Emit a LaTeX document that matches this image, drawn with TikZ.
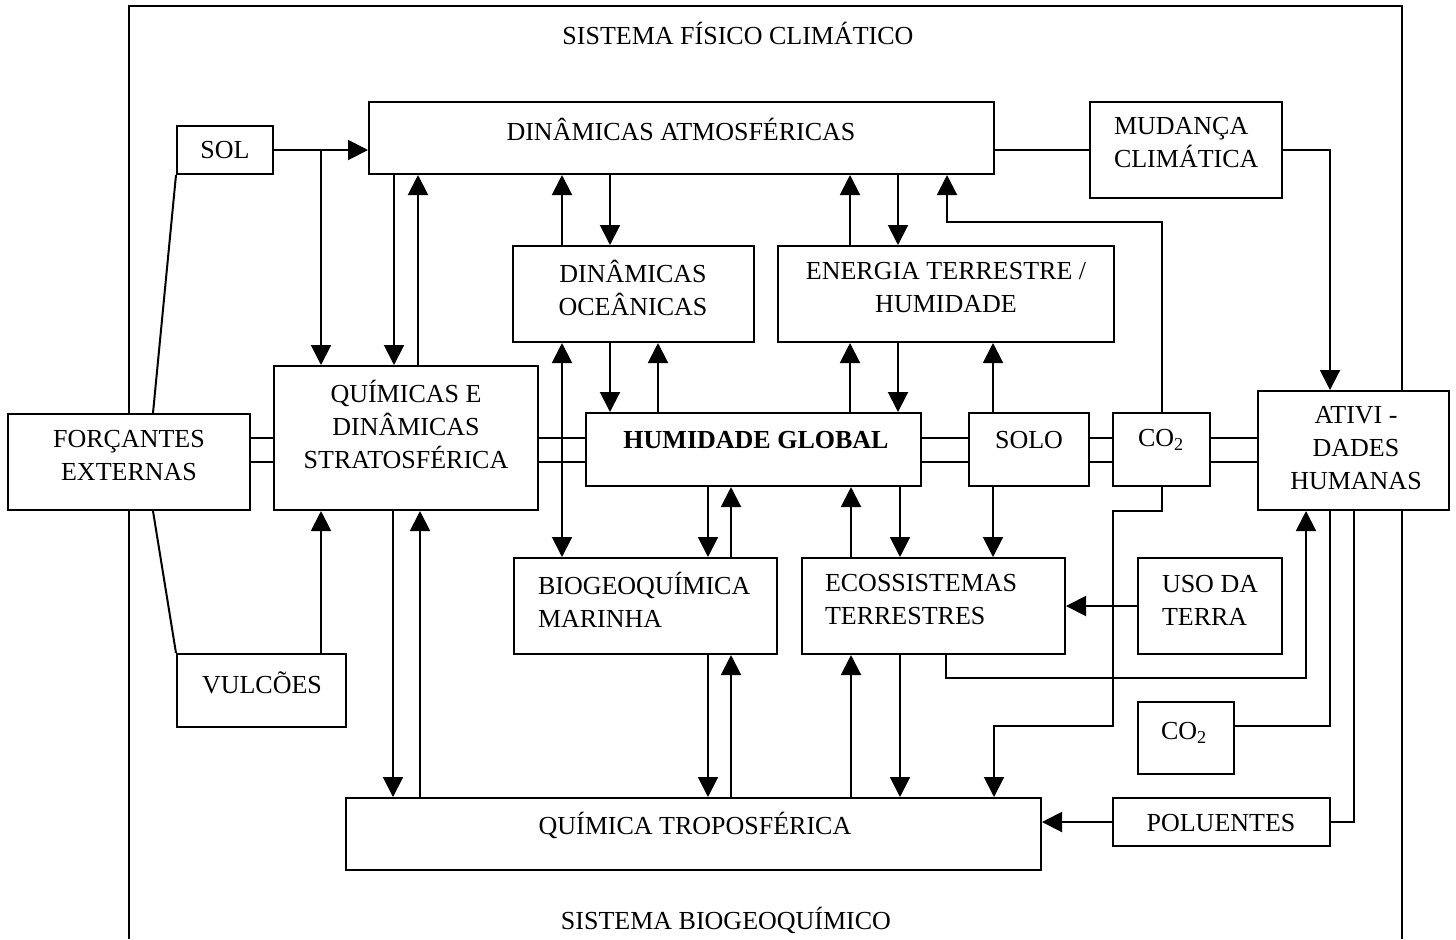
\documentclass[tikz,border=0pt]{standalone}
\usepackage{fontspec}
\setmainfont{Liberation Serif}
\usetikzlibrary{arrows.meta,fit,positioning}

\begin{document}
\begin{tikzpicture}[x=0.5pt,y=-0.5pt,line width=1pt,
    font=\fontsize{13}{16.5}\selectfont]

    % Styles
    \tikzstyle{bloco}=[draw, fill=white, inner sep=0pt]
    \tikzstyle{rotulo}=[inner sep=0pt, align=center]
    \tikzstyle{rotuloesq}=[inner sep=0pt, align=left, anchor=west]
    \tikzstyle{seta}=[-{Triangle[length=10pt,width=10pt]}]
    \tikzstyle{dupla}=[{Triangle[length=10pt,width=10pt]}-{Triangle[length=10pt,width=10pt]}]

    \useasboundingbox (0,0) rectangle (1456,939);

    % outer frame, open at the bottom
    \draw (129,939) -- (129,6) -- (1402,6) -- (1402,939);
    \node[rotulo] (titfisico) at (738,33) {SISTEMA FÍSICO CLIMÁTICO};
    \node[rotulo] (titbio) at (726,920) {SISTEMA BIOGEOQUÍMICO};

    % left column
    \node[bloco, fit={(8,414) (250,510)}] (forc) {};
    \node[rotulo] (forctx) at (129,456) {FORÇANTES\\EXTERNAS};
    \node[bloco, fit={(177,126) (273,174)}] (sol) {};
    \node[rotulo] (soltx) at (225,150) {SOL};
    \node[bloco, fit={(177,654) (346,727)}] (vulc) {};
    \node[rotuloesq] (vulctx) at (201,683) {VULCÕES};

    % top row
    \node[bloco, fit={(369,102) (994,174)}] (atm) {};
    \node[rotulo] (atmtx) at (681,129) {DINÂMICAS ATMOSFÉRICAS};
    \node[bloco, fit={(1090,102) (1282,198)}] (mud) {};
    \node[rotuloesq] (mudtx) at (1113,143) {MUDANÇA\\CLIMÁTICA};

    % second row
    \node[bloco, fit={(513,246) (754,342)}] (ocea) {};
    \node[rotulo] (oceatx) at (633,288) {DINÂMICAS\\OCEÂNICAS};
    \node[bloco, fit={(778,246) (1114,342)}] (ener) {};
    \node[rotulo] (enertx) at (946,288) {ENERGIA TERRESTRE /\\HUMIDADE};

    % middle row
    \node[bloco, fit={(274,366) (538,510)}] (quim) {};
    \node[rotulo] (quimtx) at (406,424) {QUÍMICAS E\\DINÂMICAS\\STRATOSFÉRICA};
    \node[bloco, fit={(586,413) (921,486)}] (humi) {};
    \node[rotulo, font=\fontsize{13}{16.5}\selectfont\bfseries] (humitx) at (756,440) {HUMIDADE GLOBAL};
    \node[bloco, fit={(969,413) (1089,486)}] (solo) {};
    \node[rotulo] (solotx) at (1029,440) {SOLO};
    \node[bloco, fit={(1113,413) (1210,486)}] (coa) {};
    \node[rotuloesq] (coatx) at (1137,440) {CO\textsubscript{2}};
    \node[bloco, fit={(1258,391) (1449,510)}] (ativ) {};
    \node[rotulo] (ativtx) at (1356,448) {ATIVI -\\DADES\\HUMANAS};

    % fourth row
    \node[bloco, fit={(514,558) (777,654)}] (biog) {};
    \node[rotuloesq] (biogtx) at (537,600) {BIOGEOQUÍMICA\\MARINHA};
    \node[bloco, fit={(802,558) (1065,654)}] (ecos) {};
    \node[rotuloesq] (ecostx) at (824,600) {ECOSSISTEMAS\\TERRESTRES};
    \node[bloco, fit={(1138,558) (1282,654)}] (uso) {};
    \node[rotuloesq] (usotx) at (1161,600) {USO DA\\TERRA};
    \node[bloco, fit={(1138,702) (1234,774)}] (cob) {};
    \node[rotuloesq] (cobtx) at (1160,733) {CO\textsubscript{2}};

    % bottom row
    \node[bloco, fit={(346,798) (1041,870)}] (trop) {};
    \node[rotulo] (troptx) at (695,825) {QUÍMICA TROPOSFÉRICA};
    \node[bloco, fit={(1113,798) (1330,846)}] (polu) {};
    \node[rotulo] (polutx) at (1221,823) {POLUENTES};

    % sun and volcanoes
    \draw[seta] (sol.east) -- (sol.east -| atm.west);
    \coordinate (solram) at (321,150);
    \draw[seta] (solram) -- (321,0 |- quim.north);
    \draw[seta] (321,0 |- vulc.north) -- (321,0 |- quim.south);
    \draw (sol.south west) -- (153,0 |- forc.north);
    \draw (153,0 |- forc.south) -- (vulc.north west);

    % atmosphere and stratosphere
    \draw[seta] (394,0 |- atm.south) -- (394,0 |- quim.north);
    \draw[seta] (418,0 |- quim.north) -- (418,0 |- atm.south);

    % atmosphere, ocean and land energy
    \draw[seta] (562,0 |- ocea.north) -- (562,0 |- atm.south);
    \draw[seta] (610,0 |- atm.south) -- (610,0 |- ocea.north);
    \draw[seta] (850,0 |- ener.north) -- (850,0 |- atm.south);
    \draw[seta] (898,0 |- atm.south) -- (898,0 |- ener.north);

    % CO2 up to the atmosphere
    \draw[seta] (1162,0 |- coa.north) |- (947,222) -- (947,0 |- atm.south);

    % climate change
    \draw (atm.east |- mud.west) -- (mud.west);
    \draw[seta] (mud.east) -| (1330,0 |- ativ.north);

    % ocean, land energy and global humidity
    \draw[dupla] (562,0 |- ocea.south) -- (562,0 |- biog.north);
    \draw[seta] (610,0 |- ocea.south) -- (610,0 |- humi.north);
    \draw[seta] (658,0 |- humi.north) -- (658,0 |- ocea.south);
    \draw[seta] (850,0 |- humi.north) -- (850,0 |- ener.south);
    \draw[seta] (898,0 |- ener.south) -- (898,0 |- humi.north);
    \draw[seta] (993,0 |- solo.north) -- (993,0 |- ener.south);

    % double links of the middle row
    \draw (forc.east |- 0,438) -- (quim.west |- 0,438);
    \draw (forc.east |- 0,462) -- (quim.west |- 0,462);
    \draw (quim.east |- 0,438) -- (humi.west |- 0,438);
    \draw (quim.east |- 0,462) -- (humi.west |- 0,462);
    \draw (humi.east |- 0,438) -- (solo.west |- 0,438);
    \draw (humi.east |- 0,462) -- (solo.west |- 0,462);
    \draw (solo.east |- 0,438) -- (coa.west |- 0,438);
    \draw (solo.east |- 0,462) -- (coa.west |- 0,462);
    \draw (coa.east |- 0,438) -- (ativ.west |- 0,438);
    \draw (coa.east |- 0,462) -- (ativ.west |- 0,462);

    % global humidity and ecosystems
    \draw[seta] (708,0 |- humi.south) -- (708,0 |- biog.north);
    \draw[seta] (731,0 |- biog.north) -- (731,0 |- humi.south);
    \draw[seta] (851,0 |- ecos.north) -- (851,0 |- humi.south);
    \draw[seta] (900,0 |- humi.south) -- (900,0 |- ecos.north);
    \draw[seta] (993,0 |- solo.south) -- (993,0 |- ecos.north);

    % troposphere
    \draw[seta] (393,0 |- quim.south) -- (393,0 |- trop.north);
    \draw[seta] (420,0 |- trop.north) -- (420,0 |- quim.south);
    \draw[seta] (708,0 |- biog.south) -- (708,0 |- trop.north);
    \draw[seta] (731,0 |- trop.north) -- (731,0 |- biog.south);
    \draw[seta] (851,0 |- trop.north) -- (851,0 |- ecos.south);
    \draw[seta] (900,0 |- ecos.south) -- (900,0 |- trop.north);

    % CO2 down to the troposphere
    \draw[seta] (1162,0 |- coa.south) -- (1162,511) -- (1113,511) -- (1113,726) -- (994,726) -- (994,0 |- trop.north);

    % land use
    \draw[seta] (uso.west) -- (uso.west -| ecos.east);

    % ecosystems to human activities
    \draw[seta] (946,0 |- ecos.south) |- (1306,678) -- (1306,0 |- ativ.south);

    % human activities, CO2 and pollutants
    \draw (1330,0 |- ativ.south) -- (1330,726) -- (cob.east |- 0,726);
    \draw (1354,0 |- ativ.south) |- (polu.east);
    \draw[seta] (polu.west) -- (polu.west -| trop.east);

\end{tikzpicture}
\end{document}
